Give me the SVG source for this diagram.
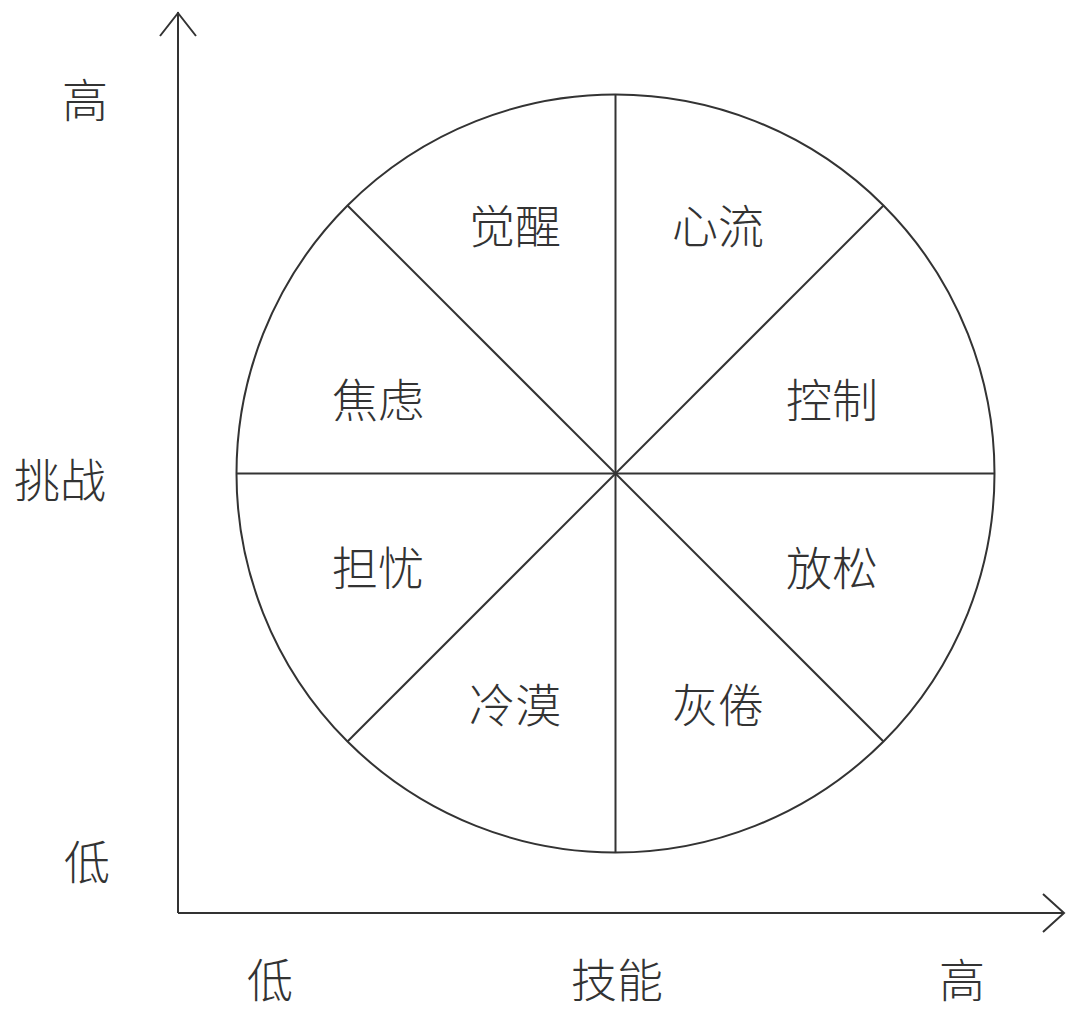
<svg xmlns="http://www.w3.org/2000/svg" width="1068" height="1014" viewBox="0 0 1068 1014">
<style>
.ln{fill:none;stroke:#333;stroke-width:2}
.t{font-family:"Noto Sans CJK SC","Noto Sans CJK JP",sans-serif;font-size:46px;fill:#333;text-anchor:middle;dominant-baseline:central;font-weight:300}
</style>
<rect width="1068" height="1014" fill="#fff"/>
<g id="axes" class="ln">
<polyline points="178,913 178,12"/>
<polyline points="160,36 178,13 196,36"/>
<polyline points="178,913 1064,913"/>
<polyline points="1043,894 1064,913 1043,932"/>
</g>
<g id="wheel" class="ln">
<circle cx="615.5" cy="473.5" r="379"/>
</g>
<g id="connectors" class="ln">
<line x1="615.5" y1="94.5" x2="615.5" y2="852.5"/>
<line x1="236.5" y1="473.5" x2="994.5" y2="473.5"/>
<line x1="347.5" y1="205.5" x2="883.5" y2="741.5"/>
<line x1="883.5" y1="205.5" x2="347.5" y2="741.5"/>
</g>
<g id="axis-labels">
<text class="t" x="85" y="97">高</text>
<text class="t" x="60" y="477">挑战</text>
<text class="t" x="87" y="859">低</text>
<text class="t" x="270" y="977">低</text>
<text class="t" x="617" y="977">技能</text>
<text class="t" x="962" y="977">高</text>
</g>
<g id="n-juexing"><text class="t" x="515" y="223">觉醒</text></g>
<g id="n-xinliu"><text class="t" x="718" y="223">心流</text></g>
<g id="n-jiaolv"><text class="t" x="378" y="397">焦虑</text></g>
<g id="n-kongzhi"><text class="t" x="832" y="397">控制</text></g>
<g id="n-danyou"><text class="t" x="378" y="565">担忧</text></g>
<g id="n-fangsong"><text class="t" x="832" y="565">放松</text></g>
<g id="n-lengmo"><text class="t" x="515" y="702">冷漠</text></g>
<g id="n-huijuan"><text class="t" x="718" y="702">灰倦</text></g>
</svg>
